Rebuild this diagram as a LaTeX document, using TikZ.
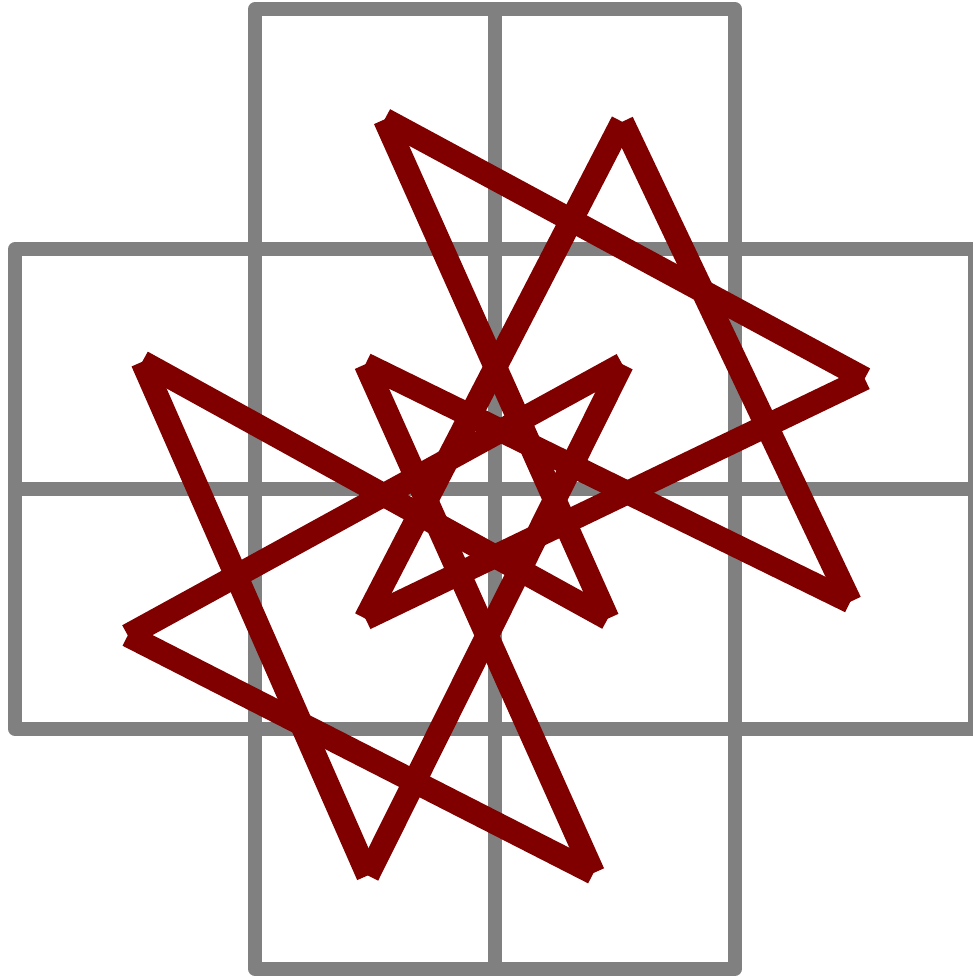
\documentclass[tikz,border=0pt]{standalone}
\usepackage{xcolor}
\definecolor{TourRed}{HTML}{800000}
\definecolor{BoardGray}{HTML}{808080}

\begin{document}
\begin{tikzpicture}[x=2cm, y=2cm,
        square/.style={draw=BoardGray, line width=3.2pt, line join=round},
        hop/.style={draw=TourRed, line width=5.5pt, line cap=butt}]
        \useasboundingbox (-0.0625,-0.029) rectangle (3.9875,4.0375);
        % the cross-shaped board
        \foreach \c/\r in {1/0,2/0,0/1,1/1,2/1,3/1,0/2,1/2,2/2,3/2,1/3,2/3} {
            \draw[square] (\c,\r) rectangle ++(1,1);
        }
        % one point per square, col/row in the name
        \foreach \n/\x/\y in {s13/1.54/3.54, s23/2.53/3.53, s32/3.54/2.46, s31/3.48/1.53,
                              s21/2.47/1.46, s12/1.46/2.52, s22/2.53/2.52, s11/1.46/1.46,
                              s02/0.53/2.53, s01/0.47/1.39, s10/1.47/0.39, s20/2.41/0.40} {
            \coordinate (\n) at (\x,\y);
        }
        % knight's tour, closed
        \foreach \p/\q in {s13/s32, s32/s11, s11/s23, s23/s31, s31/s12, s12/s20,
                           s20/s01, s01/s22, s22/s10, s10/s02, s02/s21, s21/s13} {
            \draw[hop] (\p) -- (\q);
        }
\end{tikzpicture}
\end{document}
